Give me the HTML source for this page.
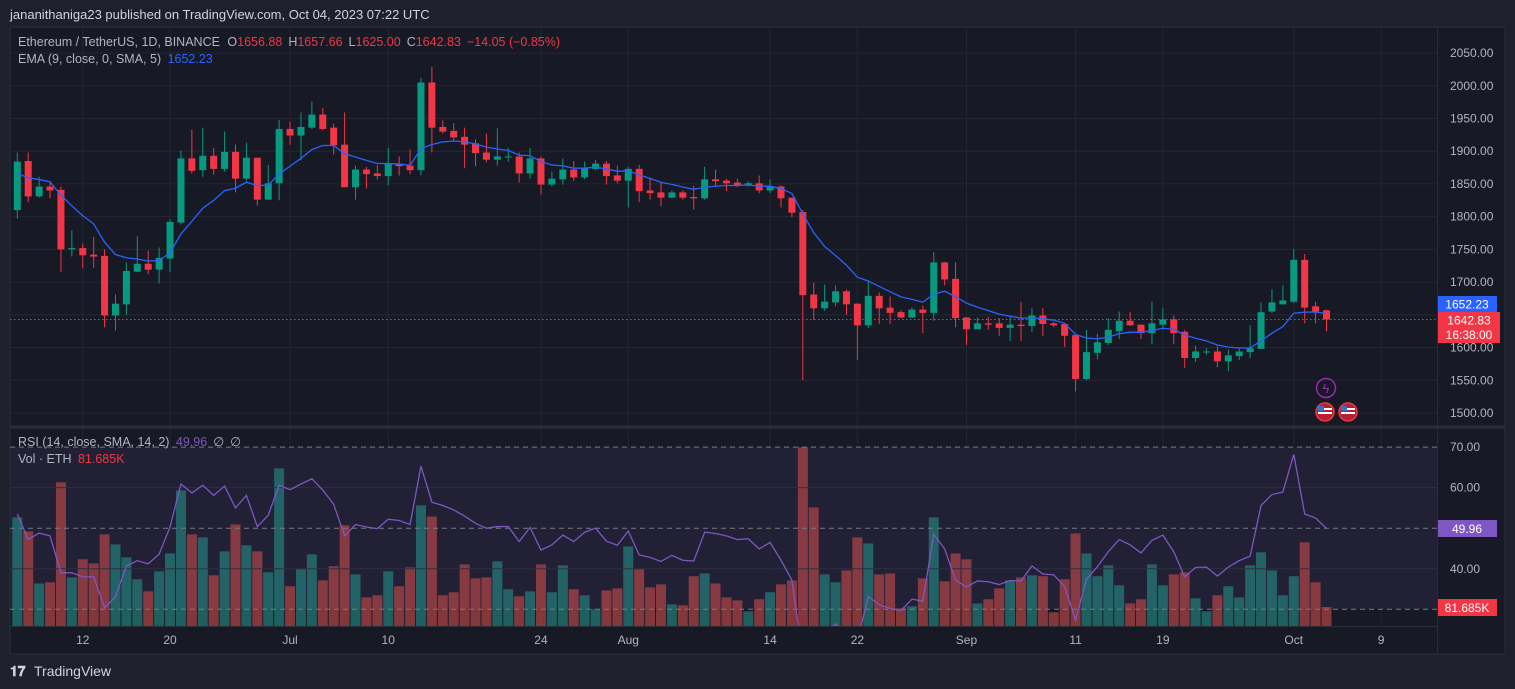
<!DOCTYPE html>
<html><head><meta charset="utf-8">
<style>
html,body{margin:0;padding:0;background:#1e212b;width:1515px;height:689px;overflow:hidden}
svg{display:block;font-family:"Liberation Sans",sans-serif}
</style></head>
<body>
<svg id="chart" width="1515" height="689" viewBox="0 0 1515 689" xmlns="http://www.w3.org/2000/svg">
  <rect x="0" y="0" width="1515" height="689" fill="#1e212b"/>
  <text x="10" y="19" fill="#d1d4dc" font-size="13">jananithaniga23 published on TradingView.com, Oct 04, 2023 07:22 UTC</text>
  <rect x="10" y="27" width="1495" height="627" fill="#171a25" stroke="#2a2e39"/>
  <rect x="10.5" y="447" width="1427" height="162" fill="rgba(126,87,194,0.1)"/>
  <g id="grid"></g>
  <g id="vol"></g>
  <g id="rsiLines"></g>
  <g id="rsi"></g>
  <g id="candles"></g>
  <g id="ema"></g>
  <line x1="10" y1="427" x2="1505" y2="427" stroke="#2a2e39" stroke-width="3"/>
  <line x1="1437.5" y1="27" x2="1437.5" y2="654" stroke="#2a2e39"/>
  <line x1="10" y1="626.5" x2="1437" y2="626.5" stroke="#2a2e39"/>
  <g id="axis"></g>

  <text x="18" y="46" font-size="12.5" fill="#b2b5be">Ethereum / TetherUS, 1D, BINANCE <tspan dx="4">O</tspan><tspan fill="#f23645">1656.88</tspan><tspan dx="6">H</tspan><tspan fill="#f23645">1657.66</tspan><tspan dx="6">L</tspan><tspan fill="#f23645">1625.00</tspan><tspan dx="6">C</tspan><tspan fill="#f23645">1642.83</tspan><tspan dx="6" fill="#f23645">−14.05 (−0.85%)</tspan></text>
  <text x="18" y="63" font-size="12.5" fill="#b2b5be">EMA (9, close, 0, SMA, 5) <tspan dx="3" fill="#2962ff">1652.23</tspan></text>
  <text x="18" y="446" font-size="12.5" fill="#b2b5be">RSI (14, close, SMA, 14, 2) <tspan dx="3" fill="#7e57c2">49.96</tspan><tspan dx="6">∅</tspan><tspan dx="6">∅</tspan></text>
  <text x="18" y="463" font-size="12.5" fill="#b2b5be">Vol · ETH <tspan dx="3" fill="#f23645">81.685K</tspan></text>

  <rect x="1438" y="296" width="59" height="16" fill="#2962ff"/>
  <text x="1467" y="308.5" font-size="12" fill="#fff" text-anchor="middle">1652.23</text>
  <rect x="1438" y="312" width="62" height="31" fill="#f23645"/>
  <text x="1469" y="324.5" font-size="12" fill="#fff" text-anchor="middle">1642.83</text>
  <text x="1469" y="339" font-size="12" fill="#fff" text-anchor="middle">16:38:00</text>
  <rect x="1438" y="520" width="59" height="17" fill="#7e57c2"/>
  <text x="1467" y="533" font-size="12" fill="#fff" text-anchor="middle">49.96</text>
  <rect x="1438" y="599" width="59" height="17" fill="#f23645"/>
  <text x="1467" y="612" font-size="12" fill="#fff" text-anchor="middle">81.685K</text>

  <g>
    <circle cx="1326" cy="388" r="9.5" fill="none" stroke="#9c27b0" stroke-width="1.5"/>
    <text x="1326" y="393" font-size="13" fill="#9c27b0" text-anchor="middle">ϟ</text>
  </g>
  <g>
    <circle cx="1325" cy="412" r="9" fill="#b22234" stroke="#f23645" stroke-width="1.5"/>
    <rect x="1318" y="408" width="14" height="2" fill="#fff"/><rect x="1318" y="412" width="14" height="2" fill="#fff"/>
    <rect x="1318" y="406" width="6" height="5" fill="#3c6ec8"/>
  </g>
  <g>
    <circle cx="1348" cy="412" r="9" fill="#b22234" stroke="#f23645" stroke-width="1.5"/>
    <rect x="1341" y="408" width="14" height="2" fill="#fff"/><rect x="1341" y="412" width="14" height="2" fill="#fff"/>
    <rect x="1341" y="406" width="6" height="5" fill="#3c6ec8"/>
  </g>

  <g>
    <text x="10" y="676" font-size="14" font-weight="bold" fill="#d1d4dc">𝟏𝟕</text>
    <text x="34" y="676" font-size="14" fill="#d1d4dc">TradingView</text>
  </g>
</svg>
<script>
// ---- data ----
const opens  = [1810,1885,1831,1846,1841,1750,1752,1742,1740,1649,1666,1716,1728,1719,1736,1791,1889,1871,1893,1873,1899,1858,1890,1826,1851,1934,1924,1936,1956,1936,1910,1845,1872,1866,1862,1881,1878,1871,2005,1937,1931,1922,1912,1898,1887,1891,1892,1866,1889,1849,1857,1872,1860,1873,1881,1863,1855,1873,1840,1837,1829,1837,1830,1828,1857,1855,1852,1848,1851,1840,1846,1829,1807,1681,1660,1669,1686,1667,1634,1679,1661,1654,1646,1658,1653,1730,1705,1646,1628,1637,1637,1630,1635,1633,1649,1637,1636,1619,1552,1592,1607,1625,1641,1635,1622,1635,1643,1624,1584,1593,1594,1579,1587,1593,1598,1655,1666,1670,1734,1663,1656.88];
const highs  = [1898,1898,1861,1854,1846,1779,1759,1769,1750,1681,1730,1770,1748,1753,1796,1901,1933,1936,1905,1930,1910,1913,1890,1879,1948,1945,1959,1976,1966,1942,1959,1878,1876,1879,1905,1892,1903,2012,2029,1947,1943,1936,1918,1927,1935,1905,1898,1905,1892,1869,1889,1885,1884,1887,1885,1878,1876,1879,1860,1853,1840,1840,1847,1876,1872,1858,1858,1854,1863,1857,1848,1829,1810,1699,1696,1695,1689,1667,1702,1684,1678,1657,1661,1664,1746,1731,1730,1646,1646,1647,1645,1649,1670,1660,1660,1639,1636,1619,1627,1621,1645,1655,1654,1635,1670,1661,1649,1627,1603,1599,1602,1597,1599,1634,1669,1689,1695,1751,1743,1670,1657.66];
const lows   = [1797,1822,1829,1828,1715,1739,1721,1722,1631,1626,1650,1715,1712,1698,1715,1788,1866,1861,1864,1869,1837,1855,1817,1826,1825,1910,1886,1934,1932,1895,1845,1826,1843,1857,1848,1863,1865,1863,1898,1927,1915,1874,1877,1883,1878,1884,1852,1858,1834,1846,1849,1855,1857,1871,1849,1851,1814,1822,1826,1816,1828,1826,1811,1826,1846,1839,1845,1846,1836,1836,1814,1799,1550,1642,1656,1663,1650,1581,1630,1636,1636,1645,1645,1622,1641,1695,1631,1604,1628,1627,1618,1610,1610,1624,1618,1631,1601,1533,1550,1582,1604,1613,1633,1613,1605,1627,1605,1569,1578,1589,1570,1564,1581,1584,1598,1653,1666,1668,1637,1637,1625];
const closes = [1884,1831,1846,1840,1750,1752,1741,1739,1649,1667,1717,1728,1719,1737,1792,1889,1870,1893,1873,1899,1858,1890,1826,1851,1934,1924,1937,1956,1934,1909,1845,1872,1865,1862,1881,1877,1871,2005,1936,1930,1921,1910,1897,1887,1892,1892,1866,1889,1849,1858,1872,1860,1875,1881,1862,1855,1873,1839,1836,1829,1837,1829,1828,1857,1854,1851,1848,1851,1840,1846,1828,1806,1680,1660,1670,1686,1666,1634,1679,1660,1653,1646,1658,1653,1730,1704,1645,1628,1637,1635,1630,1635,1633,1649,1636,1634,1618,1552,1593,1608,1627,1641,1634,1622,1637,1643,1622,1584,1594,1594,1579,1588,1594,1599,1654,1669,1672,1734,1661,1655,1642.83];
const volumes = [467,407,183,188,618,209,287,269,394,351,295,201,149,235,312,583,394,381,218,321,437,347,321,231,678,171,244,308,196,257,433,222,123,132,235,171,252,519,471,132,145,265,205,209,278,158,128,149,265,145,261,158,132,72,153,162,342,244,166,179,93,89,214,226,183,123,110,63,115,145,179,196,768,510,222,188,239,381,355,222,226,76,85,205,467,192,312,287,97,115,162,196,209,218,214,59,201,398,312,214,261,175,97,115,265,175,222,231,119,63,132,171,123,261,317,239,132,214,360,188,81.685];
const rsiValues = [53.5,47.2,48.8,48.1,39.0,39.0,38.0,38.0,30.4,33.1,40.7,42.0,41.2,43.6,50.3,60.9,58.7,60.6,58.1,60.4,55.0,58.1,50.4,53.2,60.6,59.5,60.9,62.2,59.4,55.9,48.1,50.9,50.3,49.9,52.2,51.9,50.9,65.3,56.4,55.6,54.5,53.0,51.2,50.0,50.4,50.4,46.7,50.2,44.6,45.9,48.3,46.7,49.0,50.0,46.8,45.8,49.3,43.4,42.8,41.8,43.3,42.1,41.9,49.0,48.7,48.1,47.2,47.4,44.9,46.5,42.1,37.2,18,22,24,26.4,24,22,33.2,31.1,30.2,29.7,32.5,32.0,48.5,44.9,37.2,35.5,37.0,36.8,36.1,37.1,37.0,40.7,38.7,38.5,35.6,27.3,37.4,40.5,44.2,47.2,45.9,43.9,47.0,48.3,44.2,38.0,40.3,40.4,38.2,40.4,42.0,43.1,55.6,58.3,58.9,68.2,53.5,52.5,49.96];
const priceTicks = [1500,1550,1600,1650,1700,1750,1800,1850,1900,1950,2000,2050];
const rsiTicks = [30,40,50,60,70];
const dateLabels = ["12","20","Jul","10","24","Aug","14","22","Sep","11","19","Oct","9"];
const dateIndex  = [6,14,25,34,48,56,69,77,87,97,105,117,125];
const emaLength = 9;
const lastPrice = 1642.83;

// ---- axes ----
const NS="http://www.w3.org/2000/svg";
function X(i){return 17.3+10.91*i;}
function PY(p){return 413-(p-1500)*0.6545;}
function RY(r){return 609.3-(r-30)*4.055;}
function VH(v){return v/4.3;}
const VBASE=626;
function mk(tag,attrs,parent){const e=document.createElementNS(NS,tag);for(const k in attrs)e.setAttribute(k,attrs[k]);parent.appendChild(e);return e;}

const grid=document.getElementById('grid');
priceTicks.forEach(p=>{
  const l=mk('line',{x1:10,x2:1437,y1:PY(p),y2:PY(p),stroke:'#232633'},grid);
  
  
});
dateIndex.forEach(i=>{
  const l=mk('line',{x1:X(i),x2:X(i),y1:28,y2:626,stroke:'#232633'},grid);
  
  
});
const rl=document.getElementById('rsiLines');
rsiTicks.forEach(r=>{
  const dashed=(r===30||r===50||r===70);
  const l=mk('line',{x1:10,x2:1437,y1:RY(r),y2:RY(r),stroke:dashed?'#787b86':'#2e2f40','stroke-dasharray':dashed?'5,4':'none','stroke-width':1},rl);
  
  
});

const axis=document.getElementById('axis');
priceTicks.forEach(p=>{
  const t=mk('text',{x:1450,y:PY(p)+4,fill:'#b2b5be','font-size':12},axis);
  t.textContent=p.toFixed(2);
  
  
});
rsiTicks.forEach(r=>{
  if(r===30||r===50)return;
  const t=mk('text',{x:1450,y:RY(r)+4,fill:'#b2b5be','font-size':12},axis);
  t.textContent=r.toFixed(2);
  
  
});
dateLabels.forEach((d,k)=>{
  const t=mk('text',{x:X(dateIndex[k]),y:644,fill:'#b2b5be','font-size':12,'text-anchor':'middle'},axis);
  t.textContent=d;
  
  
});

// ---- volume ----
const vg=document.getElementById('vol');
volumes.forEach((v,i)=>{
  const up=closes[i]>=opens[i];
  const h=VH(v);
  const r=mk('rect',{x:X(i)-5,y:VBASE-h,width:10,height:h,fill:up?'rgba(38,166,154,0.5)':'rgba(239,83,80,0.5)'},vg);
  
  
});

// ---- rsi ----
const rg=document.getElementById('rsi');
const cp=mk('clipPath',{id:'lowclip'},rg);
mk('rect',{x:10,y:430,width:1427,height:196},cp);
const rp=mk('polyline',{points:rsiValues.map((r,i)=>X(i)+','+RY(r)).join(' '),fill:'none',stroke:'#7e57c2','stroke-width':1.3,'clip-path':'url(#lowclip)'},rg);



// ---- candles ----
const cg=document.getElementById('candles');
opens.forEach((o,i)=>{
  const c=closes[i],up=c>=o,col=up?'#089981':'#f23645';
  const g=mk('g',{},cg);
  
  
  mk('line',{x1:X(i),x2:X(i),y1:PY(highs[i]),y2:PY(lows[i]),stroke:col,'stroke-width':1},g);
  const top=PY(Math.max(o,c)),bot=PY(Math.min(o,c));
  mk('rect',{x:X(i)-3.5,y:top,width:7,height:Math.max(1,bot-top),fill:col},g);
});

// ---- ema ----
let e=1862;const k=2/(emaLength+1);const emaPts=[];
closes.forEach((c,i)=>{e=c*k+e*(1-k);emaPts.push(X(i)+','+PY(e));});
const ep=mk('polyline',{points:emaPts.join(' '),fill:'none',stroke:'#2962ff','stroke-width':1.3},document.getElementById('ema'));



const lp=mk('line',{x1:10,x2:1437,y1:PY(lastPrice),y2:PY(lastPrice),stroke:'#f23645','stroke-dasharray':'1.5,2.5'},document.getElementById('ema'));


</script>
</body></html>
